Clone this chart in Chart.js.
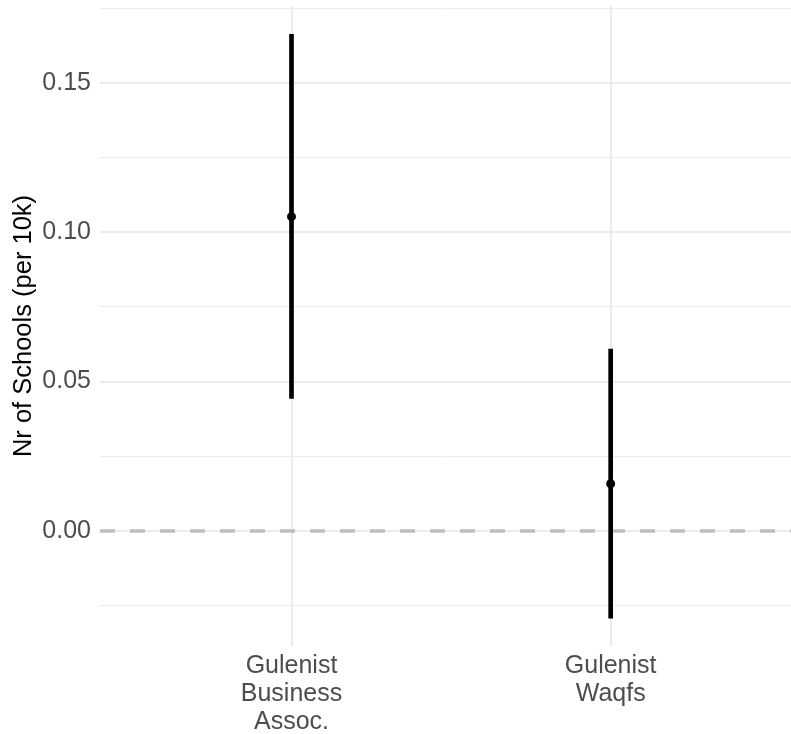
<!DOCTYPE html>
<html>
<head>
<meta charset="utf-8">
<script src="https://cdn.jsdelivr.net/npm/chart.js@4/dist/chart.umd.min.js"></script>
<style>
  html, body { margin: 0; padding: 0; background: #ffffff; }
  #wrap { width: 791px; height: 734px; position: relative; }
</style>
</head>
<body>
<div id="wrap"><canvas id="c" width="791" height="734"></canvas></div>
<script>
// Categories (multi-line axis labels) and their positions on the x axis
const categories = [
  ["Gulenist", "Business", "Assoc."],
  ["Gulenist", "Waqfs"]
];
const positions = [1, 2];

// Point estimates and interval bounds
const estimates = [0.1052, 0.0158];
const lower = [0.0444, -0.0292];
const upper = [0.1662, 0.0609];

// Y axis tick values (majors every 0.05, minors in between)
const yTicks = [-0.025, 0, 0.025, 0.05, 0.075, 0.1, 0.125, 0.15, 0.175];
const yRange = [-0.0385, 0.1757];
const xRange = [0.4, 2.565];

// Reference line value
const refLine = 0;

const isMajor = v => Math.abs(v / 0.05 - Math.round(v / 0.05)) < 1e-6;

const refLinePlugin = {
  id: 'refLine',
  beforeDatasetsDraw(chart) {
    const { ctx, chartArea, scales } = chart;
    const y = scales.y.getPixelForValue(refLine);
    ctx.save();
    ctx.strokeStyle = '#BEBEBE';
    ctx.lineWidth = 3.5;
    ctx.setLineDash([15, 15]);
    ctx.beginPath();
    ctx.moveTo(chartArea.left, y);
    ctx.lineTo(chartArea.right, y);
    ctx.stroke();
    ctx.restore();
  }
};

new Chart(document.getElementById('c'), {
  data: {
    datasets: [
      {
        type: 'bar',
        data: positions.map((x, i) => ({ x: x, y: [lower[i], upper[i]] })),
        backgroundColor: '#000000',
        borderWidth: 0,
        barThickness: 4,
        grouped: false,
        order: 2
      },
      {
        type: 'scatter',
        data: positions.map((x, i) => ({ x: x, y: estimates[i] })),
        backgroundColor: '#000000',
        borderColor: '#000000',
        pointRadius: 4.5,
        pointHoverRadius: 4.5,
        borderWidth: 0,
        order: 1
      }
    ]
  },
  options: {
    responsive: false,
    animation: false,
    events: [],
    layout: { autoPadding: false, padding: { top: 6, right: 0, left: 0, bottom: 0 } },
    plugins: {
      legend: { display: false },
      tooltip: { enabled: false }
    },
    scales: {
      x: {
        type: 'linear',
        min: xRange[0],
        max: xRange[1],
        offset: false,
        afterBuildTicks: s => { s.ticks = positions.map(v => ({ value: v })); },
        afterFit: s => { s.height = 88; s.paddingLeft = 0; s.paddingRight = 0; },
        ticks: {
          autoSkip: false,
          maxRotation: 0,
          color: '#4D4D4D',
          padding: 6,
          font: { family: 'Liberation Sans, Arial, sans-serif', size: 25, lineHeight: 1.12 },
          callback: (v, i) => categories[i]
        },
        grid: { color: '#EBEBEB', lineWidth: 2, drawTicks: false, offset: false },
        border: { display: false }
      },
      y: {
        type: 'linear',
        min: yRange[0],
        max: yRange[1],
        afterBuildTicks: s => { s.ticks = yTicks.map(v => ({ value: v })); },
        afterFit: s => { s.width = 100; s.paddingTop = 0; s.paddingBottom = 0; },
        ticks: {
          color: '#4D4D4D',
          padding: 9,
          font: { family: 'Liberation Sans, Arial, sans-serif', size: 25 },
          callback: v => isMajor(v) ? v.toFixed(2) : ''
        },
        grid: {
          color: '#EBEBEB',
          lineWidth: ctx => (ctx.tick && isMajor(ctx.tick.value)) ? 2 : 1,
          drawTicks: false
        },
        border: { display: false },
        title: {
          display: true,
          text: 'Nr of Schools (per 10k)',
          color: '#000000',
          font: { family: 'Liberation Sans, Arial, sans-serif', size: 25.5 },
          padding: { top: 9, bottom: 0 }
        }
      }
    }
  },
  plugins: [refLinePlugin]
});
</script>
</body>
</html>
